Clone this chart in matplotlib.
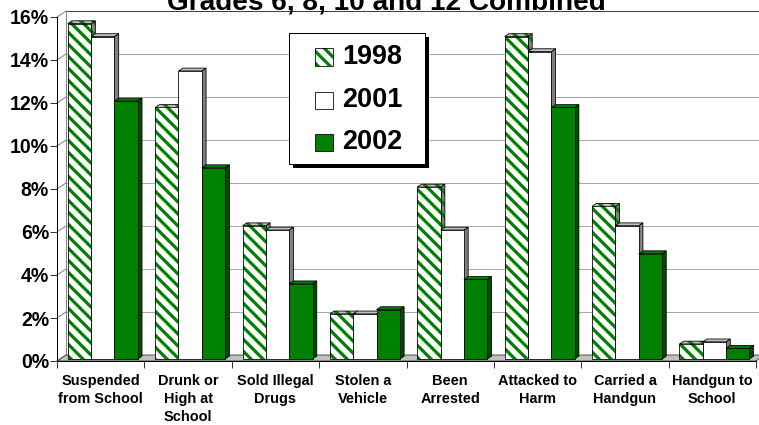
import numpy as np
import matplotlib
matplotlib.use('Agg')
import matplotlib.pyplot as plt
from matplotlib.patches import Polygon, Rectangle

plt.rcParams['font.family'] = ['Liberation Sans', 'DejaVu Sans']
plt.rcParams['font.weight'] = 'bold'
plt.rcParams['hatch.linewidth'] = 3.2

title = 'Grades 6, 8, 10 and 12 Combined'
categories = ['Suspended\nfrom School', 'Drunk or\nHigh at\nSchool', 'Sold Illegal\nDrugs',
              'Stolen a\nVehicle', 'Been\nArrested', 'Attacked to\nHarm',
              'Carried a\nHandgun', 'Handgun to\nSchool']
years = ['1998', '2001', '2002']
v1998 = [15.6, 11.7, 6.2, 2.1, 8.0, 15.0, 7.1, 0.7]
v2001 = [15.0, 13.4, 6.0, 2.1, 6.0, 14.3, 6.2, 0.8]
v2002 = [12.0, 8.9, 3.5, 2.3, 3.7, 11.7, 4.9, 0.5]
yticks = [0, 2, 4, 6, 8, 10, 12, 14, 16]
ylabels = ['0%', '2%', '4%', '6%', '8%', '10%', '12%', '14%', '16%']

GREEN = '#008000'
W, H = 759, 425

fig = plt.figure(figsize=(W / 72, H / 72), dpi=72)
fig.patch.set_facecolor('white')

def P(x, y):
    # pixel (from top-left) -> figure fraction
    return x / W, 1 - y / H

ax = fig.add_axes([57 / W, 1 - 361 / H, 699 / W, 344 / H])
ax.set_xlim(0, len(categories))
ax.set_ylim(0, 16)
ax.patch.set_visible(False)

# depth of the pseudo 3d box in data units
DX = 9 * len(categories) / 699
DY = 6 * 16 / 344
n = len(categories)

# back wall + gridlines
ax.add_patch(Rectangle((DX, DY), n, 16, fc='white', ec='none', zorder=0, clip_on=False))
for k in yticks[1:]:
    ax.plot([DX, n + DX], [k + DY, k + DY], color='#a8a8a8', lw=1, zorder=0.5, clip_on=False)
ax.plot([DX, n + DX], [16 + DY, 16 + DY], color='#404040', lw=1, zorder=0.6, clip_on=False)
ax.plot([DX, DX], [DY, 16 + DY], color='#808080', lw=1, zorder=0.6, clip_on=False)
# left wall
ax.add_patch(Polygon([(0, 0), (0, 16), (DX, 16 + DY), (DX, DY)], fc='white', ec='none',
                     zorder=0.4, clip_on=False))
for k in yticks:
    ax.plot([0, DX], [k, k + DY], color='#808080', lw=1, zorder=0.7, clip_on=False)
# floor
ax.add_patch(Polygon([(0, 0), (n, 0), (n + DX, DY), (DX, DY)], fc='#c0c0c0', ec='#303030',
                     lw=0.8, zorder=1, clip_on=False))


def face(verts, fc, z, hatch=None):
    if hatch:
        ax.add_patch(Polygon(verts, fc=fc, ec=GREEN, lw=0, hatch=hatch, zorder=z, clip_on=False))
        ax.add_patch(Polygon(verts, fill=False, ec='black', lw=0.8, zorder=z, clip_on=False))
    else:
        ax.add_patch(Polygon(verts, fc=fc, ec='black', lw=0.8, zorder=z, clip_on=False))


series = [v1998, v2001, v2002]
fronts = ['white', 'white', GREEN]
sides = ['#808080', '#808080', '#004d00']
tops = ['#c0c0c0', '#c0c0c0', GREEN]
hatches = ['\\\\', None, None]
width = 0.267
f0, f1 = 0.33, 0.8
x0 = np.arange(n) + 0.49
ddx, ddy = (f1 - f0) * DX, (f1 - f0) * DY
base = f0 * DY

for j, vals in enumerate(series):
    xs = x0 + (j - 1) * width + f0 * DX
    z = 3 + 2 * j
    if hatches[j]:
        bars = ax.bar(xs, vals, width, bottom=base, color=fronts[j], edgecolor=GREEN, lw=0,
                      hatch=hatches[j], zorder=z + 1)
        ax.bar(xs, vals, width, bottom=base, fill=False, edgecolor='black', lw=0.8, zorder=z + 1)
    else:
        bars = ax.bar(xs, vals, width, bottom=base, color=fronts[j], edgecolor='black', lw=0.8,
                      zorder=z + 1)
    for b in bars:
        xl = b.get_x()
        xr = xl + width
        top = base + b.get_height()
        face([(xr, base), (xr + ddx, base + ddy), (xr + ddx, top + ddy), (xr, top)], sides[j], z, hatches[j])
        face([(xl, top), (xr, top), (xr + ddx, top + ddy), (xl + ddx, top + ddy)], tops[j], z, hatches[j])

# axes / ticks
for s in ['top', 'right']:
    ax.spines[s].set_visible(False)
ax.spines['left'].set_linewidth(1)
ax.spines['bottom'].set_linewidth(1)
ax.set_yticks(yticks, ylabels)
ax.tick_params(axis='y', length=7, width=0.8, pad=1, labelsize=19.5)
ax.set_xticks(range(n + 1), [''] * (n + 1))
ax.set_xticks(np.arange(n) + 0.5, categories, minor=True)
ax.tick_params(axis='x', which='major', length=7, width=0.8)
ax.tick_params(axis='x', which='minor', length=0, pad=13, labelsize=14.5)
for t in ax.get_xticklabels(minor=True):
    t.set_linespacing(1.35)

# title (partly cut off at the top, as in the source)
fig.text(*P(386, 10), title, ha='center', va='baseline', fontsize=28, fontweight='bold')

# legend
lx0, ly0, lx1, ly1 = 289, 33, 425, 164
fig.patches.append(Rectangle(P(lx0 + 4, ly1 + 4), (lx1 - lx0) / W, (ly1 - ly0) / H,
                             transform=fig.transFigure, fc='black', ec='none', zorder=20))
fig.patches.append(Rectangle(P(lx0, ly1), (lx1 - lx0) / W, (ly1 - ly0) / H,
                             transform=fig.transFigure, fc='white', ec='black', lw=1, zorder=21))
rows = [57, 100, 142]
for j, yr in enumerate(years):
    yc = rows[j]
    kw = dict(transform=fig.transFigure, zorder=22)
    if hatches[j]:
        fig.patches.append(Rectangle(P(315, yc + 8.5), 18 / W, 17 / H, fc='white', ec=GREEN, lw=0,
                                     hatch=hatches[j], **kw))
        fig.patches.append(Rectangle(P(315, yc + 8.5), 18 / W, 17 / H, fill=False, ec='black', lw=0.8, **kw))
    else:
        fig.patches.append(Rectangle(P(315, yc + 8.5), 18 / W, 17 / H, fc=fronts[j], ec='black', lw=0.8, **kw))
    fig.text(*P(342, yc), yr, ha='left', va='center', fontsize=27, fontweight='bold', zorder=23)

fig.savefig('out.png', dpi=72)
